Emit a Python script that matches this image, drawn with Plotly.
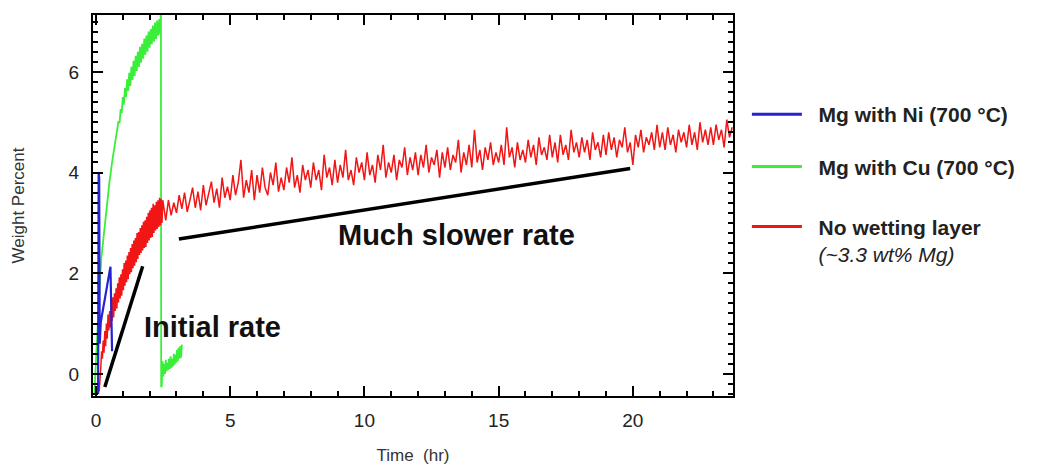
import plotly.graph_objects as go

# ---------------- data ----------------
# Mg with Ni (700 °C)
ni_time = [0.08, 0.10, 0.12, 0.14, 0.18, 0.54, 0.60]
ni_wt = [-0.40, 4.00, 3.90, 0.60, 1.03, 2.13, 0.45]

# Mg with Cu (700 °C)
cu_time = [-0.06, 0.0, 0.05, 0.1, 0.15, 0.2, 0.3, 0.4, 0.5, 0.6, 0.7, 0.8,
           0.84, 0.88, 0.92, 0.96, 1.00, 1.04, 1.08, 1.12, 1.16, 1.20, 1.24, 1.28,
           1.32, 1.36, 1.40, 1.44, 1.48, 1.52, 1.56, 1.60, 1.64, 1.68, 1.72, 1.76,
           1.80, 1.84, 1.88, 1.92, 1.96, 2.00, 2.04, 2.08, 2.12, 2.16, 2.20, 2.24,
           2.28, 2.32, 2.36, 2.40, 2.42, 2.43,
           2.45, 2.48, 2.51, 2.54, 2.57, 2.60, 2.63, 2.66, 2.69, 2.72, 2.75, 2.78,
           2.81, 2.84, 2.87, 2.90, 2.93, 2.96, 2.99, 3.02, 3.05, 3.08, 3.11, 3.14,
           3.17, 3.20]
cu_wt = [-0.40, 0.30, 0.90, 1.40, 1.85, 2.30, 2.85, 3.35, 3.80, 4.20, 4.55, 4.85,
         5.02, 4.98, 5.26, 5.18, 5.50, 5.35, 5.68, 5.50, 5.85, 5.62, 5.98, 5.72,
         6.10, 5.84, 6.22, 5.92, 6.32, 6.02, 6.40, 6.10, 6.50, 6.18, 6.56, 6.26,
         6.66, 6.34, 6.72, 6.40, 6.80, 6.48, 6.85, 6.55, 6.92, 6.60, 6.98, 6.65,
         7.02, 6.72, 7.05, 6.75, 7.50, -0.25,
         -0.25, 0.25, -0.05, 0.20, 0.00, 0.28, 0.05, 0.22, 0.08, 0.30, 0.10, 0.35,
         0.12, 0.30, 0.15, 0.40, 0.18, 0.38, 0.22, 0.48, 0.25, 0.52, 0.30, 0.55,
         0.32, 0.58]

# No wetting layer (~3.3 wt% Mg): dense start (0.03 hr sampling from 0.12 hr)
red_start_wt = [-0.35, 0.05, 0.12, 0.45, 0.30, 0.66, 0.42, 0.85, 0.55, 1.00,
                0.70, 1.18, 0.86, 1.25, 0.92, 1.40, 1.05, 1.52, 1.12, 1.60,
                1.25, 1.70, 1.30, 1.80, 1.42, 1.92, 1.50, 1.98, 1.55, 2.08,
                1.66, 2.20, 1.75, 2.25, 1.82, 2.35, 1.88, 2.42, 1.98, 2.50,
                2.02, 2.58, 2.10, 2.65, 2.15, 2.70, 2.22, 2.80, 2.28, 2.82,
                2.36, 2.90, 2.40, 2.95, 2.45, 3.02, 2.50, 3.05, 2.52, 3.12,
                2.60, 3.20, 2.65, 3.25, 2.70, 3.30, 2.72, 3.38, 2.80, 3.35,
                2.85, 3.42, 2.88, 3.45, 2.92, 3.50, 2.95, 3.48, 3.00, 3.45]
red_start_t0, red_start_dt = 0.12, 0.03
# slow part (0.1 hr sampling from 2.6 hr)
red_slow_wt = [3.05, 3.45, 3.15, 3.40,
               3.20, 3.55, 3.28, 3.60, 3.22, 3.45, 3.70, 3.30, 3.62, 3.25,
               3.75, 3.35, 3.58, 3.82, 3.40, 3.68, 3.30, 3.90, 3.50, 3.72,
               3.45, 3.95, 3.55, 3.80, 4.25, 3.50, 3.85, 3.60, 4.05, 3.45,
               3.95, 3.60, 4.10, 3.70, 3.55, 4.00, 3.75, 4.20, 3.62, 3.90,
               3.65, 4.10, 3.80, 4.30, 3.70, 3.95, 3.60, 4.15, 3.85, 4.05,
               3.70, 4.20, 3.85, 4.05, 3.65, 4.35, 3.90, 4.10, 3.75, 4.25,
               3.80, 4.15, 3.90, 4.45, 3.85, 4.05, 3.75, 4.30, 4.00, 4.20,
               3.85, 4.40, 3.95, 4.15, 3.80, 4.35, 4.05, 4.55, 3.90, 4.20,
               4.00, 4.35, 3.85, 4.25, 4.10, 4.50, 3.95, 4.30, 4.05, 4.40,
               3.95, 4.35, 4.10, 4.55, 4.00, 4.30, 4.15, 4.45, 3.90, 4.40,
               4.10, 4.50, 4.05, 4.35, 4.20, 4.65, 4.00, 4.40, 4.15, 4.55,
               4.10, 4.85, 4.20, 4.45, 4.05, 4.50, 4.25, 4.60, 4.15, 4.40,
               4.20, 4.55, 4.15, 4.90, 4.30, 4.50, 4.10, 4.60, 4.25, 4.45,
               4.20, 4.65, 4.30, 4.55, 4.15, 4.70, 4.35, 4.50, 4.25, 4.75,
               4.30, 4.60, 4.20, 4.75, 4.35, 4.55, 4.25, 4.85, 4.40, 4.60,
               4.30, 4.70, 4.40, 4.65, 4.25, 4.80, 4.45, 4.60, 4.30, 4.75,
               4.35, 4.80, 4.45, 4.70, 4.30, 4.65, 4.50, 4.90, 4.40, 4.60,
               4.15, 4.75, 4.50, 4.85, 4.40, 4.70, 4.55, 4.80, 4.45, 4.95,
               4.50, 4.80, 4.45, 4.90, 4.55, 4.75, 4.40, 4.85, 4.60, 4.80,
               4.50, 4.95, 4.55, 4.80, 4.45, 5.00, 4.60, 4.85, 4.55, 4.90,
               4.55, 4.95, 4.65, 4.85, 4.50, 5.05, 4.70, 4.90]
red_slow_t0, red_slow_dt = 2.6, 0.1

# guide lines drawn on the chart (time, wt%)
initial_rate_t = [0.33, 1.74]
initial_rate_wt = [-0.26, 2.14]
slow_rate_t = [3.09, 19.9]
slow_rate_wt = [2.68, 4.08]

series_names = ["<b>Mg with Ni (700 °C)</b>",
                "<b>Mg with Cu (700 °C)</b>",
                "<b>No wetting layer</b><br><i><span style='font-weight:normal'>(~3.3 wt% Mg)</span></i>"]
series_colors = ["#2323d2", "#3aee3a", "#f21515"]

x_ticks = [0, 5, 10, 15, 20]
y_ticks = [0, 2, 4, 6]

# ---------------- build ----------------
red_t = [round(red_start_t0 + red_start_dt * i, 3) for i in range(len(red_start_wt))] + \
        [round(red_slow_t0 + red_slow_dt * i, 3) for i in range(len(red_slow_wt))]
red_wt = red_start_wt + red_slow_wt

FONT = "Liberation Sans, Arial, Helvetica, sans-serif"
PAD = "\u00a0\u00a0"

fig = go.Figure()
# data curves (drawing order: Cu, no wetting layer, Ni)
fig.add_trace(go.Scatter(x=cu_time, y=cu_wt, mode="lines", showlegend=False,
                         legendgroup="cu", line=dict(color=series_colors[1], width=1.8)))
fig.add_trace(go.Scatter(x=red_t, y=red_wt, mode="lines", showlegend=False,
                         legendgroup="red", line=dict(color=series_colors[2], width=1.5)))
fig.add_trace(go.Scatter(x=ni_time, y=ni_wt, mode="lines", showlegend=False,
                         legendgroup="ni", line=dict(color=series_colors[0], width=2.2)))
# legend entries (thicker key lines, as in the reference)
for name, color, grp, leg in zip(series_names, series_colors,
                                 ["ni", "cu", "red"], ["legend", "legend", "legend2"]):
    fig.add_trace(go.Scatter(x=[None], y=[None], mode="lines",
                             name=PAD + name.replace("<br>", "<br>" + PAD),
                             legend=leg, legendgroup=grp,
                             line=dict(color=color, width=3)))
# guide lines
fig.add_trace(go.Scatter(x=initial_rate_t, y=initial_rate_wt, mode="lines", showlegend=False,
                         line=dict(color="black", width=3.5)))
fig.add_trace(go.Scatter(x=slow_rate_t, y=slow_rate_wt, mode="lines", showlegend=False,
                         line=dict(color="black", width=3.5)))

fig.add_annotation(x=4.34, y=0.93, xref="x", yref="y", text="<b>Initial rate</b>",
                   showarrow=False, font=dict(family=FONT, size=29, color="#111"))
fig.add_annotation(x=13.44, y=2.76, xref="x", yref="y", text="<b>Much slower rate</b>",
                   showarrow=False, font=dict(family=FONT, size=29, color="#111"))

axis_common = dict(showline=True, linecolor="black", linewidth=2, mirror="ticks",
                   ticks="inside", ticklen=10, tickwidth=1.5, tickcolor="black",
                   showgrid=False, zeroline=False, automargin=False,
                   tickfont=dict(family=FONT, size=19, color="#222"))

fig.update_xaxes(range=[-0.11, 23.73], tickvals=x_ticks,
                 minor=dict(ticks="inside", ticklen=5, tickwidth=1.5, tickcolor="black", dtick=1, tick0=0, showgrid=False),
                 title=dict(text="Time\u00a0 (hr)", font=dict(family=FONT, size=17, color="#333"), standoff=19),
                 ticklabelstandoff=6, **axis_common)
fig.update_yaxes(range=[-0.44, 7.13], tickvals=y_ticks,
                 minor=dict(ticks="inside", ticklen=5, tickwidth=1.5, tickcolor="black", dtick=0.2, tick0=0, showgrid=False),
                 title=dict(text="Weight Percent", font=dict(family=FONT, size=17, color="#333"), standoff=40),
                 ticklabelstandoff=8, **axis_common)

legend_common = dict(xref="container", yref="container", xanchor="left", yanchor="top",
                     itemwidth=50, valign="top", bgcolor="rgba(0,0,0,0)",
                     font=dict(family=FONT, size=21, color="#222"))

fig.update_layout(
    width=1049, height=470,
    margin=dict(l=93, r=316, t=15, b=74),
    paper_bgcolor="white", plot_bgcolor="white",
    font=dict(family=FONT, color="#222"),
    showlegend=True,
    legend=dict(x=0.712, y=0.80, traceorder="grouped", tracegroupgap=22, **legend_common),
    legend2=dict(x=0.712, y=0.561, **legend_common),
)

fig.write_html("out.html")
